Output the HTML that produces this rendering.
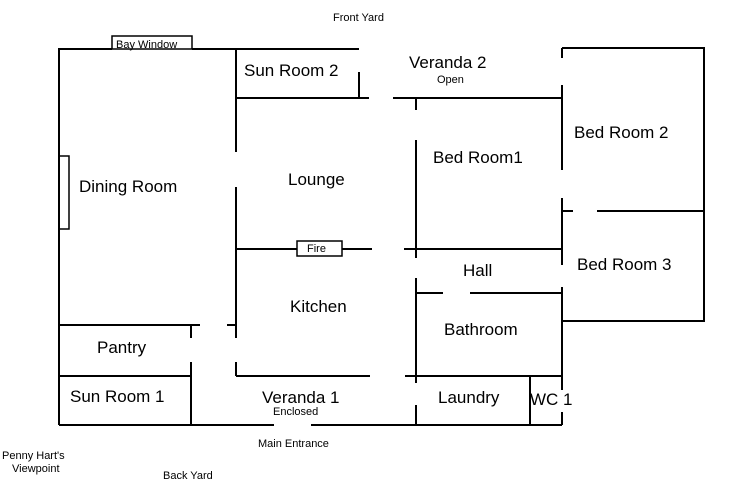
<!DOCTYPE html>
<html><head><style>
html,body{margin:0;padding:0;background:#fff;width:732px;height:487px;overflow:hidden}
svg{display:block}
text{font-family:"Liberation Sans",Arial,sans-serif;fill:#000}
.r{font-size:17px}
.s{font-size:11px}
</style></head><body>
<svg width="732" height="487" viewBox="0 0 732 487">
<g stroke="#000" stroke-width="2" fill="none">
<!-- outer left/top -->
<path d="M59 425 V49 H112 M192 49 H359"/>
<rect x="112" y="36" width="80" height="13" stroke-width="1.5"/>
<rect x="59" y="156" width="10" height="73" stroke-width="1.5"/>
<!-- sun room 2 -->
<path d="M236 49 V152 M236 187 V338 M236 362 V376 M359 72 V98"/>
<path d="M236 98 H369 M393 98 H562"/>
<!-- fire line -->
<path d="M236 249 H297 M342 249 H372 M404 249 H562"/>
<rect x="297" y="241" width="45" height="15" stroke-width="1.5"/>
<!-- x=416 -->
<path d="M416 98 V110 M416 140 V258 M416 278 V383 M416 405 V425"/>
<!-- x=562 -->
<path d="M562 48 V58 M562 85 V170 M562 198 V265 M562 287 V390 M562 412 V425"/>
<path d="M562 48 H704 V321 H562"/>
<path d="M562 211 H573 M597 211 H704"/>
<!-- hall bottom -->
<path d="M416 293 H443 M470 293 H562"/>
<!-- pantry/sunroom1 -->
<path d="M59 325 H200 M227 325 H236"/>
<path d="M191 325 V338 M191 362 V425"/>
<path d="M59 376 H191"/>
<path d="M236 376 H370 M405 376 H562"/>
<path d="M530 377 V425"/>
<path d="M59 425 H274 M311 425 H562"/>
</g>
<text class="s" x="333" y="21">Front Yard</text>
<text class="s" x="116" y="48">Bay Window</text>
<text class="r" x="244" y="76">Sun Room 2</text>
<text class="r" x="409" y="68">Veranda 2</text>
<text class="s" x="437" y="83">Open</text>
<text class="r" x="574" y="138">Bed Room 2</text>
<text class="r" x="433" y="163">Bed Room1</text>
<text class="r" x="79" y="192">Dining Room</text>
<text class="r" x="288" y="185">Lounge</text>
<text class="s" x="307" y="252">Fire</text>
<text class="r" x="463" y="276">Hall</text>
<text class="r" x="577" y="270">Bed Room 3</text>
<text class="r" x="290" y="312">Kitchen</text>
<text class="r" x="444" y="335">Bathroom</text>
<text class="r" x="97" y="353">Pantry</text>
<text class="r" x="70" y="402">Sun Room 1</text>
<text class="r" x="262" y="403">Veranda 1</text>
<text class="s" x="273" y="415">Enclosed</text>
<text class="r" x="438" y="403">Laundry</text>
<text class="r" x="530" y="405">WC 1</text>
<text class="s" x="258" y="447">Main Entrance</text>
<text class="s" x="2" y="459">Penny Hart's</text>
<text class="s" x="12" y="472">Viewpoint</text>
<text class="s" x="163" y="479">Back Yard</text>
</svg>
</body></html>
